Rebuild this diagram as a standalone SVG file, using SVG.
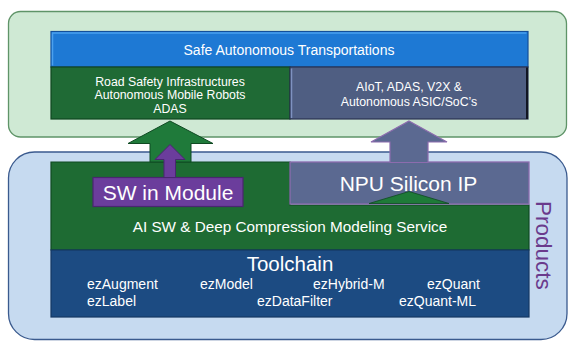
<svg xmlns="http://www.w3.org/2000/svg" width="568" height="341" viewBox="0 0 568 341">
<style>
  text { font-family: "Liberation Sans", "DejaVu Sans", sans-serif; fill: #ffffff; text-anchor: middle; }
  .sm { font-size: 12.3px; }
  .md { font-size: 15.3px; }
  .lg { font-size: 21px; }
  .tl { font-size: 14px; }
  .it { font-size: 14px; text-anchor: start; }
  .green { fill: #1f6a35; stroke: #0f4620; stroke-width: 1.2; }
  .slate { fill: #4f5e82; stroke: #2a3350; stroke-width: 1.2; }
</style>
<rect width="568" height="341" fill="#ffffff"/>

<g id="apps-container">
  <rect x="8.5" y="11.5" width="558" height="125.5" rx="12" fill="#cfe9d4" stroke="#5f9468" stroke-width="1.3"/>
</g>
<g id="products-container">
  <rect x="8.5" y="152" width="558.5" height="187.5" rx="26" fill="#c6daf0" stroke="#3a5a8e" stroke-width="1.3"/>
  <text x="0" y="0" transform="translate(536,201) rotate(90)" style="text-anchor:start;fill:#6a3a8c;font-size:22.5px">Products</text>
</g>

<g id="safe-autonomous">
  <rect x="51" y="31.5" width="477" height="35.5" fill="#1e79d4" stroke="#134f9a" stroke-width="1.2"/>
  <path d="M52.5 65.5 V33 H526.5" fill="none" stroke="#4aa0ee" stroke-width="1.5"/>
  <text class="tl" x="289" y="54.5">Safe Autonomous Transportations</text>
</g>
<g id="road-safety">
  <rect class="green" x="51" y="67" width="239" height="52"/>
  <text class="sm" x="170" y="85.5">Road Safety Infrastructures</text>
  <text class="sm" x="170" y="99">Autonomous Mobile Robots</text>
  <text class="sm" x="170" y="112.5">ADAS</text>
</g>
<g id="aiot">
  <rect class="slate" x="290" y="67" width="238" height="52"/>
  <path d="M291.5 118 V68.5" stroke="#7f92c0" stroke-width="1.5"/>
  <path d="M527 67.5 V119" stroke="#111522" stroke-width="2"/>
  <text class="sm" x="409" y="90.5">AIoT, ADAS, V2X &amp;</text>
  <text class="sm" x="409" y="105.5">Autonomous ASIC/SoC’s</text>
</g>

<g id="ai-sw-service">
  <path d="M51 162 H290 V205 H529 V250 H51 Z" fill="#1e6b33" stroke="#0f4a22" stroke-width="1.2"/>
  <text class="md" x="290" y="231.5">AI SW &amp; Deep Compression Modeling Service</text>
</g>
<g id="npu-silicon-ip">
  <rect x="290" y="162" width="239" height="42" fill="#5b6991" stroke="#8c6cae" stroke-width="1.3"/>
  <text class="lg" x="408.5" y="191">NPU Silicon IP</text>
</g>
<g id="sw-in-module">
  <rect x="93" y="177.5" width="150" height="29" fill="#6b3d9c" stroke="#4a2670" stroke-width="1.2"/>
  <text class="lg" x="168" y="200">SW in Module</text>
</g>
<g id="toolchain">
  <rect x="51" y="250" width="478" height="67" fill="#1c4b82" stroke="#143763" stroke-width="1.2"/>
  <text x="290" y="270.5" style="font-size:20.5px">Toolchain</text>
  <text class="it" x="87" y="289">ezAugment</text>
  <text class="it" x="200" y="289">ezModel</text>
  <text class="it" x="313" y="289">ezHybrid-M</text>
  <text class="it" x="427" y="289">ezQuant</text>
  <text class="it" x="87" y="306">ezLabel</text>
  <text class="it" x="257" y="306">ezDataFilter</text>
  <text class="it" x="399" y="306">ezQuant-ML</text>
</g>

<g id="connectors">
  <path d="M170 121 L213 143.5 H191 V162 H150 V143.5 H128 Z" fill="#1f7a3a" stroke="#0f4a22" stroke-width="1"/>
  <path d="M170 144.5 L185 159.5 H175.5 V177.5 H164 V159.5 H155 Z" fill="#6b3d9c" stroke="#4a2670" stroke-width="1"/>
  <path d="M409 121 L447 142 H428 V162.5 H390 V142 H371 Z" fill="#5b6991" stroke="#8c6cae" stroke-width="1.2"/>
  <path d="M409 191.5 L449 203.5 H369 Z" fill="#1e7a38" stroke="#0f4a22" stroke-width="0.8"/>
</g>
</svg>
